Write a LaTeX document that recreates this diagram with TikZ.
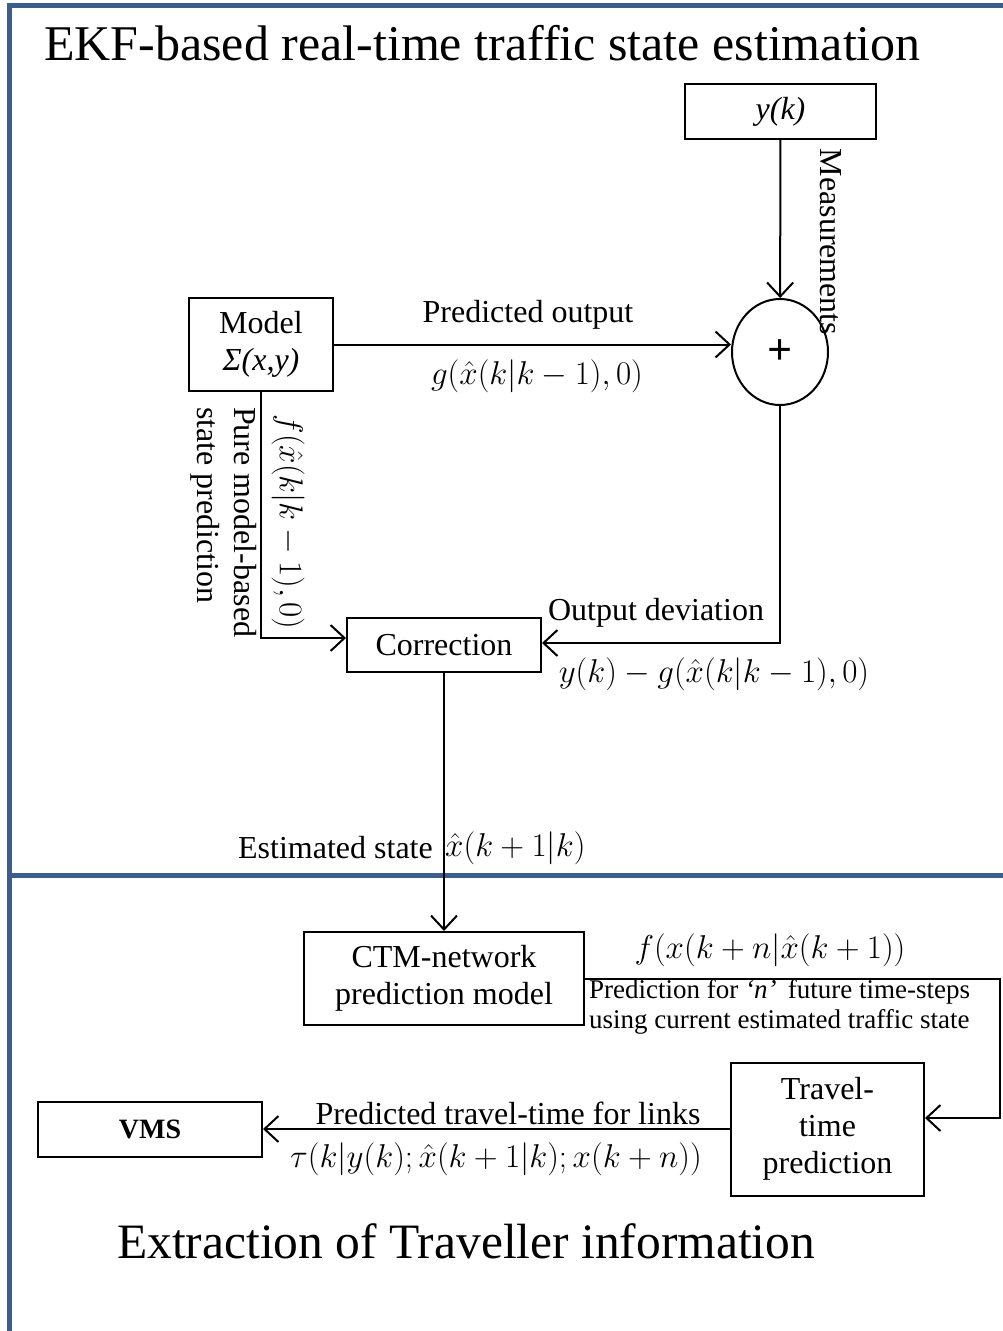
\documentclass[tikz,border=0pt]{standalone}
\usepackage{fix-cm}
\usepackage{fontspec}
\setmainfont{Liberation Serif}
\usetikzlibrary{arrows.meta,shapes.geometric}
\definecolor{frameblue}{RGB}{59,94,140}
\newcommand\mainsz{\fontsize{32}{37}\selectfont}
\newcommand\mathsz{\fontsize{33}{37}\selectfont}
\newcommand\smallsz{\fontsize{27}{30}\selectfont}
\newcommand\titlesz{\fontsize{50}{55}\selectfont}
\begin{document}
\begin{tikzpicture}[x=1pt,y=-1pt,
  every node/.style={inner sep=0pt,font=\mainsz},
  box/.style={draw,line width=2pt,align=center},
  conn/.style={draw,line width=2pt,-{Straight Barb[length=14pt,width=26pt,line width=2pt]}},
  mlbl/.style={font=\mathsz},
  frame/.style={draw=frameblue,line width=5pt}]
\useasboundingbox (0,0) rectangle (1003,1331);
% frame
\draw[frame] (9,1331) -- (9,5) -- (1003,5);
\draw[frame] (9,875) -- (1003,875);
% titles
\node[anchor=west,font=\titlesz] (t1) at (44,43) {EKF-based real-time traffic state estimation};
\node[anchor=west,font=\fontsize{49.5}{55}\selectfont] (t2) at (117,1241) {Extraction of Traveller information};
% boxes
\node[box,minimum width=191,minimum height=55] (yk) at (780.5,111.5) {\textit{y(k)}};
\node[box,ellipse,minimum width=96,minimum height=106] (sum) at (780,352) {\fontsize{44}{44}\selectfont\bfseries +};
\node[box,minimum width=144,minimum height=93] (model) at (261,344.5) {Model\\\textit{Σ(x,y)}};
\node[box,minimum width=194,minimum height=54] (corr) at (444,645) {Correction};
\node[box,minimum width=280,minimum height=93] (ctm) at (444,978.5) {CTM-network\\prediction model};
\node[box,minimum width=193,minimum height=133] (tt) at (827.5,1129) {Travel-\\time\\prediction};
\node[box,minimum width=224,minimum height=55] (vms) at (150,1129) {\fontsize{28}{32}\selectfont\bfseries VMS};
% connectors
\draw[conn] (yk) -- (sum);
\draw[conn] (model.east) -- (model.east -| sum.west);
\draw[conn] (model.south) |- ([yshift=7pt]corr.west);
\draw[conn] (sum.south) |- ([yshift=2pt]corr.east);
\draw[conn] (corr.south) -- (ctm.north);
\coordinate (rt) at (1000,978.5);
\draw[conn] (ctm.east) -- (rt) |- ([yshift=11pt]tt.east);
\draw[conn] (tt.west) -- (vms.east);
% labels
\node[rotate=-90] (meas) at (831,242) {Measurements};
\node (po) at (528,315) {Predicted output};
\node[mlbl] (g1) at (537,376) {$g(\hat{x}(k|k-1),0)$};
\node[mlbl,rotate=-90] (f1) at (288,522) {$f(\hat{x}(k|k-1),0)$};
\node[rotate=-90,align=left,anchor=north west] (pm) at (257,407) {Pure model-based\\state prediction};
\node (od) at (656,613) {Output deviation};
\node[mlbl] (yd) at (714,674) {$y(k)-g(\hat{x}(k|k-1),0)$};
\node[anchor=east] (es) at (433,848) {Estimated state};
\node[mlbl,anchor=west] (esm) at (445,848) {$\hat{x}(k+1|k)$};
\node[mlbl] (fx) at (770,950) {$f(x(k+n|\hat{x}(k+1))$};
\node[anchor=north west,align=left,font=\smallsz] (pn) at (589,979) {Prediction for \textit{‘n’} \,future time-steps\\using current estimated traffic state};
\node (ptt) at (508,1113) {Predicted travel-time for links};
\node[mlbl] (tau) at (496,1159) {$\tau(k|y(k);\hat{x}(k+1|k);x(k+n))$};
\end{tikzpicture}
\end{document}
